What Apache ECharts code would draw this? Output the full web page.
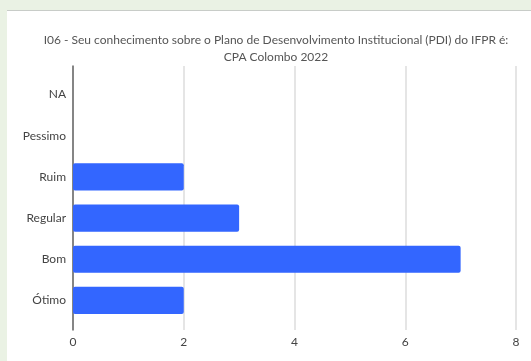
<!DOCTYPE html>
<html>
<head>
<meta charset="utf-8">
<script src="https://cdn.jsdelivr.net/npm/echarts@6/dist/echarts.min.js"></script>
<style>
html,body{margin:0;padding:0;background:#eaf2e4;width:531px;height:361px;overflow:hidden;}
#panel{position:absolute;left:7px;top:10px;width:524px;height:351px;background:#fff;border-top:1px solid #c8ccc8;}
#chart{position:absolute;left:0;top:0;width:531px;height:361px;}
</style>
</head>
<body>
<div id="panel"></div>
<div id="chart"></div>
<script>
const titleText = "I06 - Seu conhecimento sobre o Plano de Desenvolvimento Institucional (PDI) do IFPR é:\nCPA Colombo 2022";
const categories = ["NA", "Pessimo", "Ruim", "Regular", "Bom", "Ótimo"];
const values = [0, 0, 2, 3, 7, 2];
const xTicks = [0, 2, 4, 6, 8];

const FONT = 'Lato';
const chart = echarts.init(document.getElementById('chart'), null, {renderer: 'canvas'});
chart.setOption({
  backgroundColor: 'transparent',
  animation: false,
  title: {
    text: titleText,
    left: 271, top: 27, textAlign: 'center',
    textStyle: {fontFamily: FONT, fontSize: 12, fontWeight: 'normal', color: '#555', lineHeight: 17}
  },
  grid: [
    {left: 73, right: 15, top: 66, bottom: 31, containLabel: false},
    {left: 73, right: 15, top: 74, bottom: 40, containLabel: false}
  ],
  xAxis: [{
    gridIndex: 0,
    type: 'value', min: xTicks[0], max: xTicks[xTicks.length - 1], interval: 2,
    axisLine: {show: false}, axisTick: {show: false},
    splitLine: {lineStyle: {color: '#dcdcdc', width: 1.5}},
    axisLabel: {fontFamily: FONT, fontSize: 12, color: '#444', margin: 6}
  }, {
    gridIndex: 1,
    type: 'value', min: xTicks[0], max: xTicks[xTicks.length - 1], interval: 2,
    show: false
  }],
  yAxis: [{
    gridIndex: 0,
    type: 'category', data: categories, inverse: true,
    axisLine: {lineStyle: {color: '#666', width: 1.5}},
    axisTick: {show: false}, axisLabel: {show: false}, splitLine: {show: false}
  }, {
    gridIndex: 1,
    type: 'category', data: categories, inverse: true,
    axisLine: {show: false}, axisTick: {show: false},
    axisLabel: {fontFamily: FONT, fontSize: 12, color: '#444', margin: 7}
  }],
  series: [{
    type: 'bar', xAxisIndex: 1, yAxisIndex: 1, data: values, barWidth: '66%',
    itemStyle: {color: '#3366ff', borderRadius: 2}
  }]
});
</script>
</body>
</html>
